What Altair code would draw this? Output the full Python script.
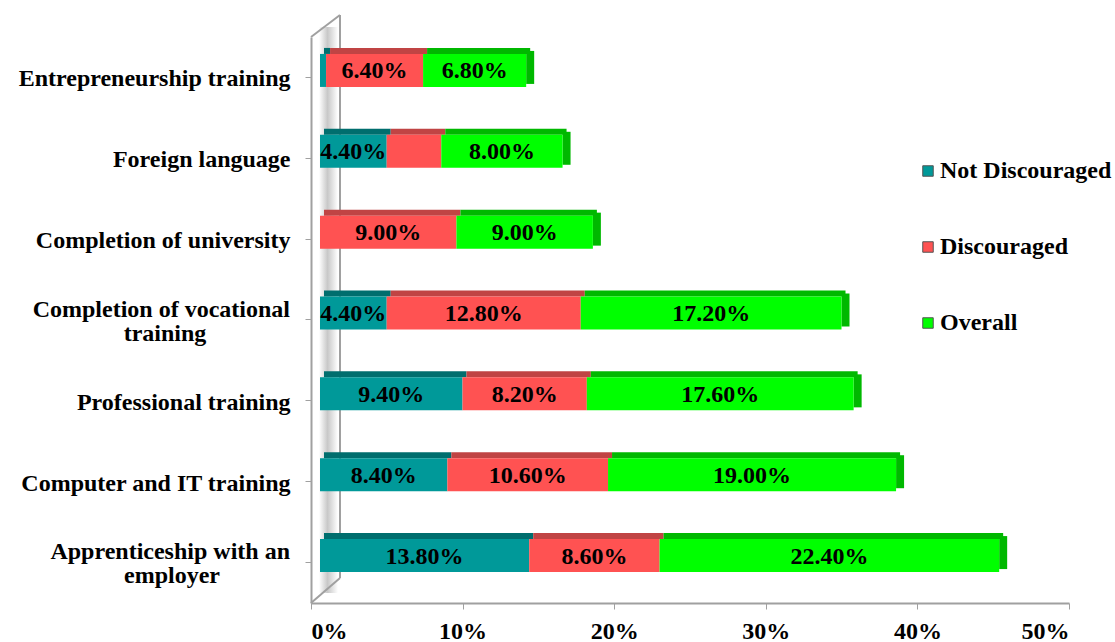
import altair as alt
import pandas as pd

# Training types, top to bottom
categories = [
    "Entrepreneurship training",
    "Foreign language",
    "Completion of university",
    "Completion of vocational training",
    "Professional training",
    "Computer and IT training",
    "Apprenticeship with an employer",
]
# Share of respondents (%) per group
not_discouraged = [0.4, 4.4, 0.0, 4.4, 9.4, 8.4, 13.8]
discouraged = [6.4, 3.6, 9.0, 12.8, 8.2, 10.6, 8.6]
overall = [6.8, 8.0, 9.0, 17.2, 17.6, 19.0, 22.4]

series = ["Not Discouraged", "Discouraged", "Overall"]
front_colors = ["#009999", "#FF5252", "#00FF00"]
top_colors = ["#006E6E", "#C04444", "#00B800"]

# Category labels that wrap onto two lines: the first line is right-aligned
# like the other axis labels, the second is centred under it (shift in px)
wrapped = {
    "Completion of vocational training": ("Completion of vocational", "training", -146),
    "Apprenticeship with an employer": ("Apprenticeship with an", "employer", -139),
}

x_ticks = [0, 10, 20, 30, 40, 50]

rows = []
for i, cat in enumerate(categories):
    for k, (name, vals) in enumerate(zip(series, [not_discouraged, discouraged, overall])):
        rows.append({
            "category": cat,
            "series": name,
            "ord": k,
            "value": vals[i],
            "top": top_colors[k],
        })
df = pd.DataFrame(rows)

FONT = "Liberation Serif"
FS = 24
TICK = 6
LABEL_PAD = 15

# Wrapped labels are drawn by the text layers below, not by the axis
label_expr = "indexof([%s], datum.label) >= 0 ? '' : datum.label" % ", ".join(
    "'%s'" % w for w in wrapped
)

y_sorted = alt.Y("category:N", sort=categories)

y_enc = alt.Y(
    "category:N",
    sort=categories,
    title=None,
    axis=alt.Axis(
        labelExpr=label_expr,
        labelFont=FONT,
        labelFontSize=FS,
        labelFontWeight="bold",
        labelColor="black",
        labelOffset=2,
        labelPadding=LABEL_PAD,
        labelLimit=400,
        tickSize=TICK,
        tickColor="#A0A0A0",
        domainColor="#A0A0A0",
        domainWidth=2,
    ),
)
x_enc = alt.X(
    "x0:Q",
    scale=alt.Scale(domain=[0, 50], nice=False),
    title=None,
    axis=alt.Axis(
        values=x_ticks,
        labelExpr="datum.value + '%'",
        labelFont=FONT,
        labelFontSize=FS,
        labelFontWeight="bold",
        labelColor="black",
        labelPadding=10,
        tickSize=TICK,
        tickColor="#A0A0A0",
        domainColor="#A0A0A0",
        domainWidth=2,
        grid=False,
    ),
)

base = alt.Chart(df).transform_stack(
    stack="value", groupby=["category"], sort=[alt.SortField("ord")], as_=["x0", "x1"]
).transform_calculate(mid="(datum.x0 + datum.x1) / 2")

# Side wall of the 3-D frame
wall_src = alt.Chart(pd.DataFrame({"k": [0]}))
wall_shade = wall_src.mark_rect(
    xOffset=8, x2Offset=27,
    color=alt.Gradient(
        gradient="linear", x1=0, x2=1, y1=0, y2=0,
        stops=[
            alt.GradientStop(color="#FFFFFF", offset=0),
            alt.GradientStop(color="#C8C8C8", offset=0.45),
            alt.GradientStop(color="#FFFFFF", offset=1),
        ],
    ),
).encode(x=alt.datum(0), x2=alt.datum(0), y=alt.value(-10), y2=alt.value(556))
wall_back = wall_src.mark_rule(xOffset=29, color="#A0A0A0", strokeWidth=2).encode(
    x=alt.datum(0), y=alt.value(-22), y2=alt.value(541)
)
wall_top = wall_src.mark_rule(x2Offset=29, color="#A0A0A0", strokeWidth=2).encode(
    x=alt.datum(0), x2=alt.datum(0), y=alt.value(0), y2=alt.value(-22)
)
wall_bottom = wall_src.mark_rule(x2Offset=29, color="#A0A0A0", strokeWidth=2).encode(
    x=alt.datum(0), x2=alt.datum(0), y=alt.value(566), y2=alt.value(541)
)

front = base.mark_bar(size=33, xOffset=9, x2Offset=9, yOffset=-7).encode(
    y=y_enc,
    x=x_enc,
    x2="x1:Q",
    color=alt.Color(
        "series:N",
        scale=alt.Scale(domain=series, range=front_colors),
        legend=alt.Legend(
            title=None,
            orient="none",
            legendX=605,
            legendY=122,
            symbolType="square",
            symbolSize=110,
            symbolStrokeWidth=1,
            symbolStrokeColor="#555555",
            labelFont=FONT,
            labelFontSize=FS,
            labelFontWeight="bold",
            labelColor="black",
            labelOffset=0,
            labelLimit=300,
            rowPadding=52,
        ),
    ),
)

# Top face of each segment
top = base.mark_bar(size=6, xOffset=13, x2Offset=13, yOffset=-26.5).encode(
    y=y_sorted,
    x="x0:Q",
    x2="x1:Q",
    color=alt.Color("top:N", scale=None),
)

# Right-hand end face of each bar
side = base.transform_filter(alt.datum.series == "Overall").mark_bar(
    size=33, xOffset=9, x2Offset=17, yOffset=-10, color="#00B800"
).encode(
    y=y_sorted,
    x="x1:Q",
    x2="x1:Q",
)

text = base.transform_filter(alt.datum.value >= 4).transform_calculate(
    label="format(datum.value, '.2f') + '%'"
).mark_text(
    font=FONT, fontSize=FS, fontWeight="bold", color="black",
    baseline="middle", align="center", dx=9, dy=-6,
).encode(
    y=y_sorted,
    x="mid:Q",
    text="label:N",
)

# Two-line category labels
label_font = dict(font=FONT, fontSize=FS, fontWeight="bold", color="black", baseline="middle")
wrapped_layers = []
for full, (first, second, shift) in wrapped.items():
    src = alt.Chart(pd.DataFrame({"category": [full], "first": [first], "second": [second]}))
    wrapped_layers.append(
        src.mark_text(align="right", dx=-(TICK + LABEL_PAD), dy=-10.5, **label_font)
        .encode(y=y_sorted, x=alt.datum(0), text="first:N")
    )
    wrapped_layers.append(
        src.mark_text(align="center", dx=shift, dy=13.5, **label_font)
        .encode(y=y_sorted, x=alt.datum(0), text="second:N")
    )

chart = alt.layer(
    wall_shade, wall_back, wall_top, wall_bottom, side, top, front, text, *wrapped_layers
).properties(
    width=758,
    height=566,
    padding={"left": 311, "top": 37, "right": 46, "bottom": 39},
    autosize=alt.AutoSizeParams(type="none"),
    background="white",
).configure_view(stroke=None)

chart.save("out.html", embed_options={"renderer": "svg", "actions": False})
